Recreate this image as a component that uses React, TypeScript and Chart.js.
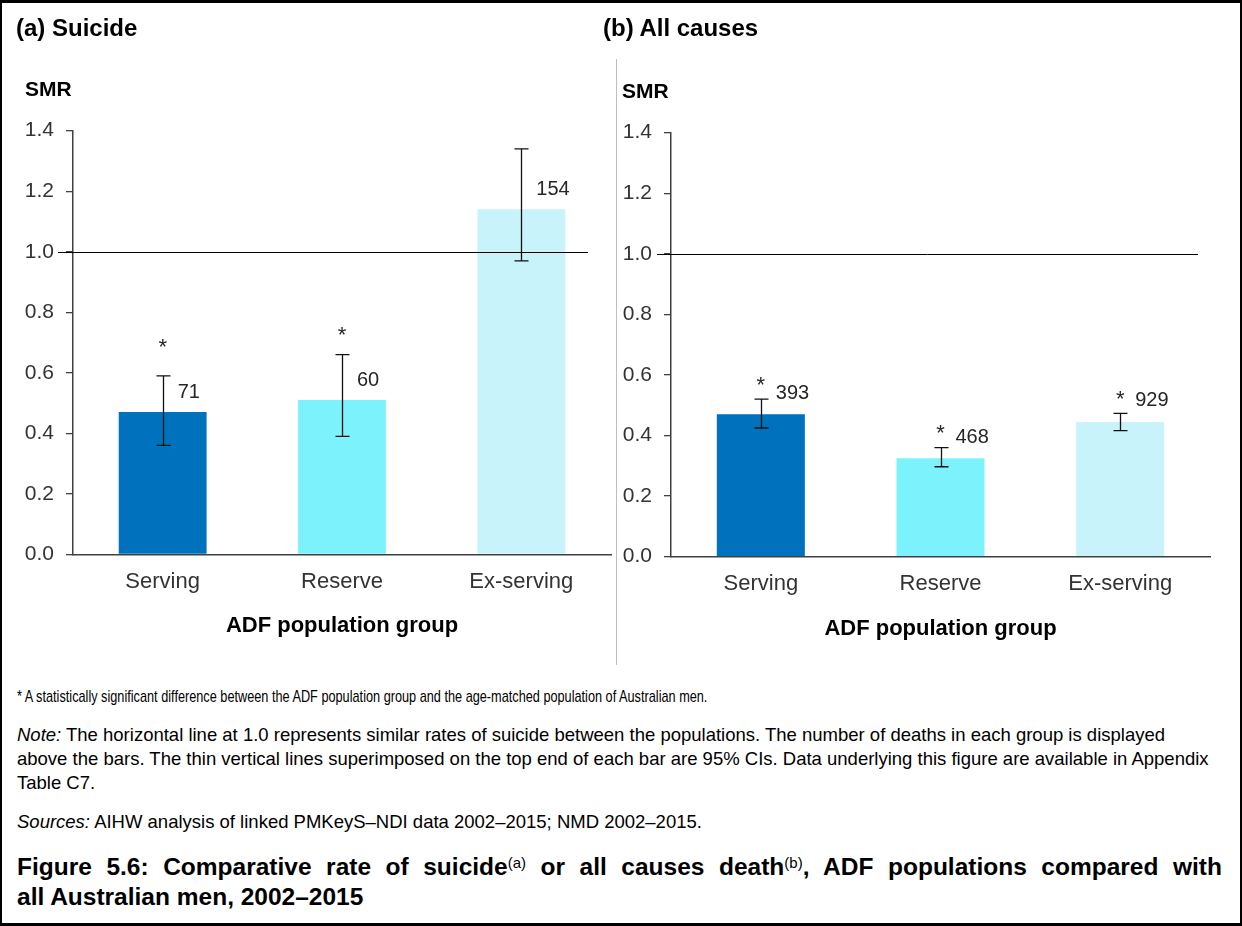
import React, { useEffect, useRef } from "react";
import { Chart, registerables } from "chart.js";

Chart.register(...registerables);

// ---------- data ----------
const categories = ["Serving", "Reserve", "Ex-serving"];
const yTickValues = [0, 0.2, 0.4, 0.6, 0.8, 1.0, 1.2, 1.4];
const referenceSMR = 1.0;

const suicideSMR = [0.47, 0.51, 1.14];
const suicideLower = [0.36, 0.39, 0.97];
const suicideUpper = [0.59, 0.66, 1.34];
const suicideDeaths = ["71", "60", "154"];
const suicideSignificant = [true, true, false];

const allCausesSMR = [0.47, 0.325, 0.445];
const allCausesLower = [0.425, 0.297, 0.416];
const allCausesUpper = [0.52, 0.36, 0.473];
const allCausesDeaths = ["393", "468", "929"];
const allCausesSignificant = [true, true, true];

const barColors = ["#0071BC", "#7CF3FC", "#C9F3FB"];

const FONT = "'Liberation Sans', Arial, Helvetica, sans-serif";
const AXIS_COLOR = "#404040";
const TEXT_COLOR = "#333333";

const annotatePlugin = {
  id: "smrAnnotate",
  afterDatasetsDraw(chart: any, _args: any, opts: any) {
    const { ctx, chartArea } = chart;
    const y = chart.scales.y;
    const meta = chart.getDatasetMeta(0);
    ctx.save();
    // reference line at 1.0
    const yr = Math.round(y.getPixelForValue(opts.ref)) + 0.5;
    ctx.strokeStyle = "#000";
    ctx.lineWidth = 1;
    ctx.beginPath();
    ctx.moveTo(chartArea.left + opts.refLeft, yr);
    ctx.lineTo(chartArea.right + opts.refRight, yr);
    ctx.stroke();

    meta.data.forEach((bar: any, i: number) => {
      const cx = Math.round(bar.x) + 0.5;
      const yl = y.getPixelForValue(opts.lower[i]);
      const yu = y.getPixelForValue(opts.upper[i]);
      ctx.strokeStyle = "#111";
      ctx.lineWidth = 1.3;
      ctx.beginPath();
      ctx.moveTo(cx, yl);
      ctx.lineTo(cx, yu);
      ctx.moveTo(cx - 7, yl);
      ctx.lineTo(cx + 7, yl);
      ctx.moveTo(cx - 7, yu);
      ctx.lineTo(cx + 7, yu);
      ctx.stroke();

      ctx.fillStyle = "#262626";
      ctx.font = `20px ${FONT}`;
      ctx.textAlign = "left";
      ctx.textBaseline = "middle";
      ctx.fillText(opts.deaths[i], bar.x + 15, bar.y - opts.labelGap);

      if (opts.significant[i]) {
        const base = opts.asteriskFromCI ? yu : bar.y;
        const vy = base - opts.asteriskGap;
        ctx.font = `22px ${FONT}`;
        ctx.textAlign = "center";
        ctx.textBaseline = "alphabetic";
        ctx.fillText("*", bar.x, vy + 12);
      }
    });
    ctx.restore();
  },
};

function SMRPanel(p: any) {
  const ref = useRef<HTMLCanvasElement | null>(null);
  useEffect(() => {
    const canvas = ref.current;
    if (!canvas) return;
    const chart = new Chart(canvas, {
      type: "bar",
      data: {
        labels: categories,
        datasets: [
          {
            data: p.values,
            backgroundColor: barColors,
            borderWidth: 0,
            categoryPercentage: 1,
            barPercentage: 0.49,
          },
        ],
      },
      plugins: [annotatePlugin],
      options: {
        animation: false,
        responsive: false,
        maintainAspectRatio: false,
        devicePixelRatio: 1,
        layout: { padding: { left: 0, right: p.padRight, top: p.padTop, bottom: 0 } },
        plugins: {
          legend: { display: false },
          tooltip: { enabled: false },
          smrAnnotate: {
            ref: referenceSMR,
            lower: p.lower,
            upper: p.upper,
            deaths: p.deaths,
            significant: p.significant,
            asteriskFromCI: p.asteriskFromCI,
            asteriskGap: p.asteriskGap,
            labelGap: p.labelGap,
            refLeft: p.refLeft,
            refRight: p.refRight,
          },
        } as any,
        scales: {
          x: {
            grid: { display: false, drawTicks: false },
            border: { display: true, color: AXIS_COLOR, width: 1.5 },
            ticks: { font: { family: FONT, size: 22 }, color: TEXT_COLOR, padding: 14 },
            title: {
              display: true,
              text: "ADF population group",
              font: { family: FONT, size: 22, weight: "bold" },
              color: "#000",
              padding: { top: 0, bottom: p.titlePadBottom },
            },
            afterFit: (s: any) => {
              s.height = p.height - p.chartBottomY;
            },
          } as any,
          y: {
            min: 0,
            max: 1.4,
            afterBuildTicks: (s: any) => {
              s.ticks = yTickValues.map((v) => ({ value: v }));
            },
            ticks: {
              font: { family: FONT, size: 21 },
              color: TEXT_COLOR,
              padding: 12,
              callback: (v: any) => Number(v).toFixed(1),
            },
            grid: {
              drawOnChartArea: false,
              drawTicks: true,
              tickLength: 7,
              color: AXIS_COLOR,
              lineWidth: 1.3,
            },
            border: { display: true, color: AXIS_COLOR, width: 1.5 },
            afterFit: (s: any) => {
              s.width = p.yAxisWidth;
            },
          } as any,
        },
      },
    });
    return () => chart.destroy();
  }, []);
  return (
    <canvas
      ref={ref}
      width={p.width}
      height={p.height}
      style={{ position: "absolute", left: p.left, top: 0, width: p.width, height: p.height }}
    />
  );
}

function Txt(props: { x: number; cy: number; size: number; lh: number; bold?: boolean; children: any; width?: number; justify?: boolean; scaleX?: number }) {
  return (
    <div
      style={{
        position: "absolute",
        left: props.x,
        top: props.cy - props.lh / 2,
        width: props.width,
        fontSize: props.size,
        lineHeight: `${props.lh}px`,
        fontWeight: props.bold ? 700 : 400,
        whiteSpace: props.justify ? "normal" : "nowrap",
        textAlign: props.justify ? "justify" : "left",
        textAlignLast: props.justify ? "justify" : "auto",
        transform: props.scaleX ? `scaleX(${props.scaleX})` : undefined,
        transformOrigin: "left center",
        color: "#000",
      } as any}
    >
      {props.children}
    </div>
  );
}

const supStyle = { fontSize: 15, fontWeight: 400, verticalAlign: 7, lineHeight: 0 } as any;

export default function App() {
  return (
    <div
      style={{
        position: "fixed",
        left: 0,
        top: 0,
        width: 1242,
        height: 926,
        background: "#fff",
        fontFamily: FONT,
        overflow: "hidden",
      }}
    >
      <SMRPanel
        left={0}
        width={616}
        height={660}
        padTop={130.7}
        padRight={5}
        yAxisWidth={73}
        titlePadBottom={21}
        chartBottomY={554.3}
        values={suicideSMR}
        lower={suicideLower}
        upper={suicideUpper}
        deaths={suicideDeaths}
        significant={suicideSignificant}
        asteriskFromCI={false}
        asteriskGap={70}
        labelGap={20}
        refLeft={-15}
        refRight={-23}
      />
      <SMRPanel
        left={616}
        width={626}
        height={660}
        padTop={132.7}
        padRight={32}
        yAxisWidth={55}
        titlePadBottom={18}
        chartBottomY={556.7}
        values={allCausesSMR}
        lower={allCausesLower}
        upper={allCausesUpper}
        deaths={allCausesDeaths}
        significant={allCausesSignificant}
        asteriskFromCI={true}
        asteriskGap={19.5}
        labelGap={21}
        refLeft={-14}
        refRight={-12}
      />
      {/* divider */}
      <div style={{ position: "absolute", left: 616, top: 59, width: 1, height: 606, background: "#bfbfbf" }} />
      {/* panel titles */}
      <Txt x={16} cy={28} size={24} lh={28} bold>(a) Suicide</Txt>
      <Txt x={603} cy={28} size={24} lh={28} bold>(b) All causes</Txt>
      <Txt x={25} cy={89} size={21} lh={24} bold>SMR</Txt>
      <Txt x={622} cy={91} size={21} lh={24} bold>SMR</Txt>
      {/* notes */}
      <Txt x={17} cy={697} size={17} lh={20} scaleX={0.748}>
        * A statistically significant difference between the ADF population group and the age-matched population of Australian men.
      </Txt>
      <Txt x={17} cy={735} size={18.5} lh={22}>
        <i>Note:</i> The horizontal line at 1.0 represents similar rates of suicide between the populations. The number of deaths in each group is displayed
      </Txt>
      <Txt x={17} cy={759} size={18.5} lh={22}>
        above the bars. The thin vertical lines superimposed on the top end of each bar are 95% CIs. Data underlying this figure are available in Appendix
      </Txt>
      <Txt x={17} cy={783} size={18.5} lh={22}>
        Table C7.
      </Txt>
      <Txt x={17} cy={822} size={18.5} lh={22}>
        <i>Sources:</i> AIHW analysis of linked PMKeyS–NDI data 2002–2015; NMD 2002–2015.
      </Txt>
      <Txt x={17} cy={867} size={24.5} lh={30} bold width={1205} justify>
        Figure 5.6: Comparative rate of suicide<sup style={supStyle}>(a)</sup> or all causes death<sup style={supStyle}>(b)</sup>, ADF populations compared with
      </Txt>
      <Txt x={17} cy={897} size={24.5} lh={30} bold>
        all Australian men, 2002–2015
      </Txt>
      {/* frame */}
      <div
        style={{
          position: "absolute",
          left: 0,
          top: 0,
          width: 1242,
          height: 926,
          boxSizing: "border-box",
          borderTop: "3px solid #000",
          borderLeft: "2px solid #000",
          borderRight: "2px solid #000",
          borderBottom: "3px solid #000",
          pointerEvents: "none",
        }}
      />
    </div>
  );
}
